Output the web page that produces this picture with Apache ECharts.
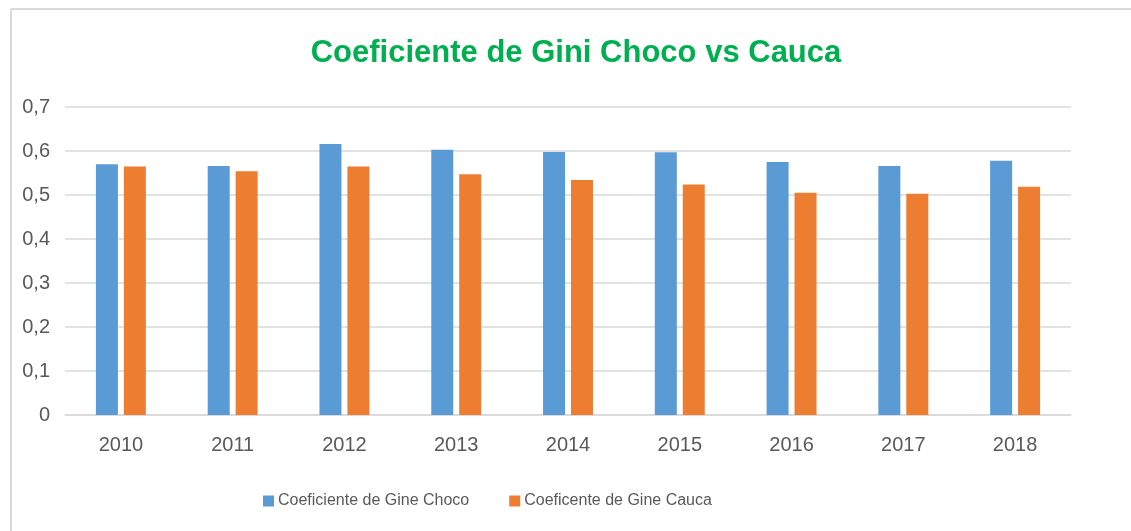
<!DOCTYPE html>
<html>
<head>
<meta charset="utf-8">
<script src="https://cdn.jsdelivr.net/npm/echarts@6/dist/echarts.min.js"></script>
<style>
html,body{margin:0;padding:0;background:#fff;}
#chart{width:1131px;height:531px;}
</style>
</head>
<body>
<div id="chart"></div>
<script>
const categories = ['2010','2011','2012','2013','2014','2015','2016','2017','2018'];
const chocoValues = [0.570, 0.566, 0.616, 0.603, 0.598, 0.597, 0.575, 0.566, 0.578];
const caucaValues = [0.565, 0.554, 0.565, 0.547, 0.534, 0.524, 0.505, 0.503, 0.519];
const seriesNames = ['Coeficiente de Gine Choco', 'Coeficente de Gine Cauca'];
const titleText = 'Coeficiente de Gini Choco vs Cauca';

const chart = echarts.init(document.getElementById('chart'), null, {renderer: 'canvas'});
const labelFont = "'Liberation Sans', Arial, sans-serif";
chart.setOption({
  animation: false,
  backgroundColor: '#ffffff',
  title: {
    text: titleText,
    left: 571,
    top: 33,
    textAlign: 'center',
    textStyle: {color: '#00B050', fontSize: 31, fontWeight: 'bold', fontFamily: labelFont}
  },
  graphic: [
    {type: 'line', shape: {x1: 11, y1: 9, x2: 1131, y2: 9}, style: {stroke: '#d9d9d9', lineWidth: 2}},
    {type: 'line', shape: {x1: 11, y1: 9, x2: 11, y2: 531}, style: {stroke: '#d9d9d9', lineWidth: 2}}
  ],
  legend: {
    left: 258,
    top: 488,
    itemWidth: 11,
    itemHeight: 11,
    itemGap: 40,
    icon: 'rect',
    textStyle: {color: '#595959', fontSize: 16, fontFamily: labelFont, padding: [0,0,0,-1]},
    data: seriesNames
  },
  grid: {left: 65, right: 60, top: 107, bottom: 116, containLabel: false},
  xAxis: {
    type: 'category',
    data: categories,
    axisLine: {lineStyle: {color: '#d9d9d9', width: 1.5}},
    axisTick: {show: false},
    axisLabel: {color: '#595959', fontSize: 20, fontFamily: labelFont, margin: 20}
  },
  yAxis: {
    type: 'value',
    min: 0, max: 0.7, interval: 0.1,
    axisLine: {show: false},
    axisTick: {show: false},
    splitLine: {lineStyle: {color: '#d9d9d9', width: 1.5}},
    axisLabel: {
      color: '#595959', fontSize: 20, fontFamily: labelFont, margin: 15,
      formatter: v => (Math.round(v * 10) / 10).toString().replace('.', ',')
    }
  },
  series: [
    {name: seriesNames[0], type: 'bar', data: chocoValues, barWidth: 22, barGap: '27%',
     itemStyle: {color: '#5B9BD5'}},
    {name: seriesNames[1], type: 'bar', data: caucaValues, barWidth: 22, barGap: '27%',
     itemStyle: {color: '#ED7D31'}}
  ]
});
</script>
</body>
</html>
